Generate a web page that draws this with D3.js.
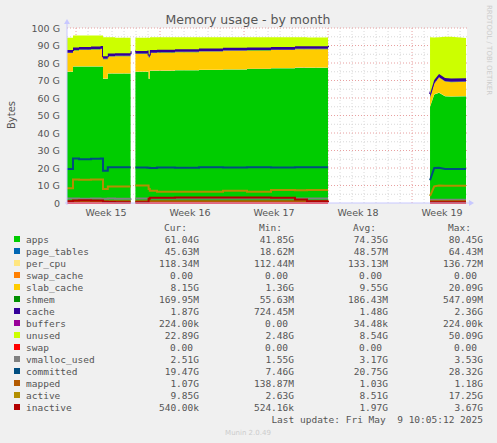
<!DOCTYPE html>
<html><head><meta charset="utf-8">
<script src="https://cdn.jsdelivr.net/npm/d3@7"></script>
<style>body{margin:0;background:#f0f0f0}</style>
</head><body><svg id="c" width="497" height="443"></svg>
<script>
// time in days from left edge of graph
var days =      [0,   0.5, 1,   2,   2.8, 3.0, 3.4, 4,   5.3, 5.7, 6.7, 6.8, 6.9, 7.5, 9,   11,  13,  15,  17,  19,  20,  21.75, 30.25, 30.6, 31,  31.5, 32,  33.25];
var apps =      [75,  78,  78,  78,  78,  71,  74,  74,  75,  75,  75,  71,  75.5,75.5,75.8,76,  76.3,76.6,77,  77.2,77.3,77.5,  55,    62,   63,  61,   60.8,61];
var pageTables= [0.05,0.05,0.05,0.05,0.05,0.05,0.05,0.05,0.05,0.05,0.05,0.05,0.05,0.05,0.05,0.05,0.05,0.05,0.05,0.05,0.05,0.05,0.04,0.04,0.04,0.04,0.04,0.04];
var perCpu =    [0.13,0.13,0.13,0.13,0.13,0.13,0.13,0.13,0.13,0.13,0.13,0.13,0.13,0.13,0.13,0.13,0.13,0.13,0.13,0.13,0.13,0.13,0.12,0.12,0.12,0.12,0.12,0.12];
var slabCache = [10.5,9,   9.3, 9.6, 9.8, 11,  9.5, 9.7, 9.8, 10,  10.2,12,  10,  10.2,10.2,10.4,10.5,10.4,10.2,10.5,10.4,10.3,  5,     6,    8.5, 8.2,  8.1, 8.15];
var shmem =     [0.2, 0.2, 0.2, 0.2, 0.2, 0.2, 0.2, 0.2, 0.2, 0.2, 0.2, 0.2, 0.2, 0.2, 0.2, 0.2, 0.2, 0.2, 0.2, 0.2, 0.2, 0.2,   0.17,  0.17, 0.17,0.17, 0.17,0.17];
var cache =     [1.6, 1.5, 1.5, 1.5, 1.5, 1.5, 1.5, 1.5, 1.5, 1.5, 1.5, 1.5, 1.5, 1.5, 1.5, 1.5, 1.5, 1.5, 1.5, 1.5, 1.5, 1.5,   1.9,   1.9,  1.9, 1.9,  1.9, 1.87];
var buffers =   [0,   0,   0,   0,   0,   0,   0,   0,   0,   0,   0,   0,   0,   0,   0,   0,   0,   0,   0,   0,   0,   0,     0,     0,    0,   0,    0,   0];
var unused =    [6.9, 6.8, 6.5, 6.2, 6,   10.8,9.3, 8.9, 7.9, 7.6, 7.4, 9.4, 7.3, 7.1, 6.8, 6.4, 6,   5.8, 5.6, 5.1, 5,   5,     32.5,  24.4, 21,  23.5, 23.9,22.9];
var swap =      [0,   0,   0,   0,   0,   0,   0,   0,   0,   0,   0,   0,   0,   0,   0,   0,   0,   0,   0,   0,   0,   0,     0,     0,    0,   0,    0,   0];
var vmalloc =   [2.6, 2.6, 2.5, 2.6, 2.5, 2.5, 2.6, 2.5, 2.6, 2.6, 2.6, 2.6, 2.6, 2.6, 2.6, 2.6, 2.6, 2.6, 2.6, 2.6, 2.6, 2.6,   1.8,   1.8,  1.8, 1.8,  1.8, 1.8];
var committed = [19.5,25.5,25,  25.3,25.5,18.5,20.4,20.5,20.5,20.3,20.2,20.1,20,  20.3,20.1,20.4,20.3,20.4,20.3,20.5,20.4,20.4,  13,    20,   20.2,19.5, 19.5,19.47];
var mapped =    [1,   1,   1,   1,   1,   1,   1,   1,   1,   1,   1,   1,   1,   1,   1,   1,   1,   1,   1,   1,   1,   1,     1.07,  1.07, 1.07,1.07, 1.07,1.07];
var active =    [8.5, 13.5,13.3,13.4,13.5,8,   9.5, 9.5, 9.5, 10,  10,  8,   7,   6.5, 6.5, 6.5, 7,   6.5, 7.5, 7.3, 7.5, 7.5,   4,     9.5,  10,  9.8,  9.8, 9.85];
var inactive =  [1,   1.5, 1.6, 1.5, 1.5, 0.7, 0.6, 0.5, 0.5, 0.5, 0.5, 2.5, 3,   3,   3.2, 3.2, 3.2, 3.1, 3,   2,   1,   1.5,   0.5,   0.5,  0.5, 0.5,  0.5, 0.5];

var weekLabels = ["Week 15","Week 16","Week 17","Week 18","Week 19"];
var weekLabelDay = [3.25, 10.25, 17.25, 24.25, 31.25];
var yTicks = [0,10,20,30,40,50,60,70,80,90,100];

var areaVals = [apps,pageTables,perCpu,null,slabCache,shmem,cache,buffers,unused];
var areaColors = ["#00cc00","#0066b3","#ffe680","#ff8000","#ffcc00","#008f00","#330099","#990099","#ccff00"];
var lineVals = [swap,vmalloc,committed,mapped,active,inactive];
var lineColors = ["#ff0000","#808080","#004d80","#b35a00","#b38f00","#b30000"];

var legendRows = [
 ["apps","61.04G","41.85G","74.35G","80.45G"],
 ["page_tables","45.63M","18.62M","48.57M","64.43M"],
 ["per_cpu","118.34M","112.44M","133.13M","136.72M"],
 ["swap_cache","0.00","0.00","0.00","0.00"],
 ["slab_cache","8.15G","1.36G","9.55G","20.09G"],
 ["shmem","169.95M","55.63M","186.43M","547.09M"],
 ["cache","1.87G","724.45M","1.48G","2.36G"],
 ["buffers","224.00k","0.00","34.48k","224.00k"],
 ["unused","22.89G","2.48G","8.54G","50.09G"],
 ["swap","0.00","0.00","0.00","0.00"],
 ["vmalloc_used","2.51G","1.55G","3.17G","3.53G"],
 ["committed","19.47G","7.46G","20.75G","28.32G"],
 ["mapped","1.07G","138.87M","1.03G","1.18G"],
 ["active","9.85G","2.63G","8.51G","17.25G"],
 ["inactive","540.00k","524.16k","1.97G","3.67G"]];
var legendColors = areaColors.concat(lineColors);

var svg = d3.select("#c");
var L = 67, R = 467, T = 28, B = 203;
var x = d3.scaleLinear().domain([0, 33.33]).range([L, R]);
var y = d3.scaleLinear().domain([0, 100]).range([B, T]);

svg.append("rect").attr("x", L).attr("y", T).attr("width", R - L).attr("height", B - T).attr("fill", "#fff");

// grid
for (var d = 0.75; d < 33.33; d += 1) {
  var major = Math.abs(((d - 0.75) % 7)) < 0.01;
  svg.append("line").attr("x1", x(d)).attr("x2", x(d)).attr("y1", T).attr("y2", B)
    .attr("stroke", major ? "#e8a0a0" : "#d8d8d8").attr("stroke-dasharray", "1,2");
}
for (var v = 5; v <= 100; v += 5) {
  svg.append("line").attr("x1", L).attr("x2", R).attr("y1", y(v)).attr("y2", y(v))
    .attr("stroke", v % 10 ? "#d8d8d8" : "#e8a0a0").attr("stroke-dasharray", "1,2");
}

// data segments separated by gaps
var idx = days.map(function (d, i) { return i; });
var segments = [
  idx.filter(function (i) { return days[i] <= 5.3; }),
  idx.filter(function (i) { return days[i] >= 5.7 && days[i] <= 21.75; }),
  idx.filter(function (i) { return days[i] >= 30.25; })];
function curveFor(s) { return s === segments[2] ? d3.curveLinear : d3.curveStepAfter; }

var base = days.map(function () { return 0; });
areaVals.forEach(function (vals, k) {
  if (!vals) return;
  var top = base.map(function (b, i) { return b + vals[i]; });
  var lo = base.slice();
  segments.forEach(function (s) {
    svg.append("path").datum(s)
      .attr("d", d3.area().curve(curveFor(s)).x(function (i) { return x(days[i]); })
        .y0(function (i) { return y(lo[i]); }).y1(function (i) { return y(top[i]); }))
      .attr("fill", areaColors[k]);
    if (k === 6) {
      svg.append("path").datum(s)
        .attr("d", d3.line().curve(curveFor(s)).x(function (i) { return x(days[i]); }).y(function (i) { return y(top[i]); }))
        .attr("fill", "none").attr("stroke", areaColors[k]).attr("stroke-width", 2);
    }
  });
  base = top;
});
lineVals.forEach(function (vals, k) {
  segments.forEach(function (s) {
    svg.append("path").datum(s)
      .attr("d", d3.line().curve(curveFor(s)).x(function (i) { return x(days[i]); }).y(function (i) { return y(vals[i]); }))
      .attr("fill", "none").attr("stroke", lineColors[k]).attr("stroke-width", 2);
  });
});

// axes
svg.append("line").attr("x1", L - 2).attr("x2", R + 4).attr("y1", B).attr("y2", B).attr("stroke", "#c8c8ff");
svg.append("line").attr("x1", L).attr("x2", L).attr("y1", B + 2).attr("y2", T - 6).attr("stroke", "#c8c8ff");
svg.append("path").attr("d", "M" + (R + 7) + "," + B + "l-5,-3v6z").attr("fill", "#c8c8ff");
svg.append("path").attr("d", "M" + L + "," + (T - 9) + "l-3,5h6z").attr("fill", "#c8c8ff");

var sans = "'DejaVu Sans',sans-serif", mono = "'DejaVu Sans Mono',monospace";
var g = svg.append("g").attr("fill", "#555").attr("font-family", sans).attr("font-size", "9.5px");
yTicks.forEach(function (t) {
  g.append("text").attr("x", 60).attr("y", y(t) + 3.5).attr("text-anchor", "end").text(t === 0 ? "0" : t + " G");
});
weekLabels.forEach(function (w, i) {
  g.append("text").attr("x", x(weekLabelDay[i])).attr("y", 216).attr("text-anchor", "middle").text(w);
});
g.append("text").attr("transform", "translate(15,115) rotate(-90)").attr("text-anchor", "middle").attr("font-size", "10px").text("Bytes");
g.append("text").attr("x", 248).attr("y", 24).attr("text-anchor", "middle").attr("font-size", "12.5px").text("Memory usage - by month");
svg.append("text").attr("transform", "translate(487,5) rotate(90)").attr("fill", "#ccc")
  .attr("font-family", sans).attr("font-size", "7px").text("RRDTOOL / TOBI OETIKER");

// legend
var lg = svg.append("g").attr("fill", "#555").attr("font-family", mono).attr("font-size", "9.5px");
var colX = [199, 294, 388, 483];
["Cur:", "Min:", "Avg:", "Max:"].forEach(function (h, i) {
  lg.append("text").attr("x", colX[i] - 12).attr("y", 231).attr("text-anchor", "end").text(h);
});
legendRows.forEach(function (r, i) {
  var yy = 243 + i * 12;
  lg.append("rect").attr("x", 14).attr("y", yy - 7).attr("width", 6).attr("height", 6).attr("fill", legendColors[i]);
  lg.append("text").attr("x", 26).attr("y", yy).text(r[0]);
  for (var c = 0; c < 4; c++) {
    var s = r[c + 1];
    lg.append("text").attr("x", colX[c] - (s === "0.00" ? 6 : 0)).attr("y", yy).attr("text-anchor", "end").text(s);
  }
});
lg.append("text").attr("x", 483).attr("y", 423).attr("text-anchor", "end").attr("xml:space", "preserve").text("Last update: Fri May  9 10:05:12 2025");
svg.append("text").attr("x", 248).attr("y", 435).attr("text-anchor", "middle").attr("fill", "#ccc")
  .attr("font-family", sans).attr("font-size", "7px").text("Munin 2.0.49");
</script></body></html>
